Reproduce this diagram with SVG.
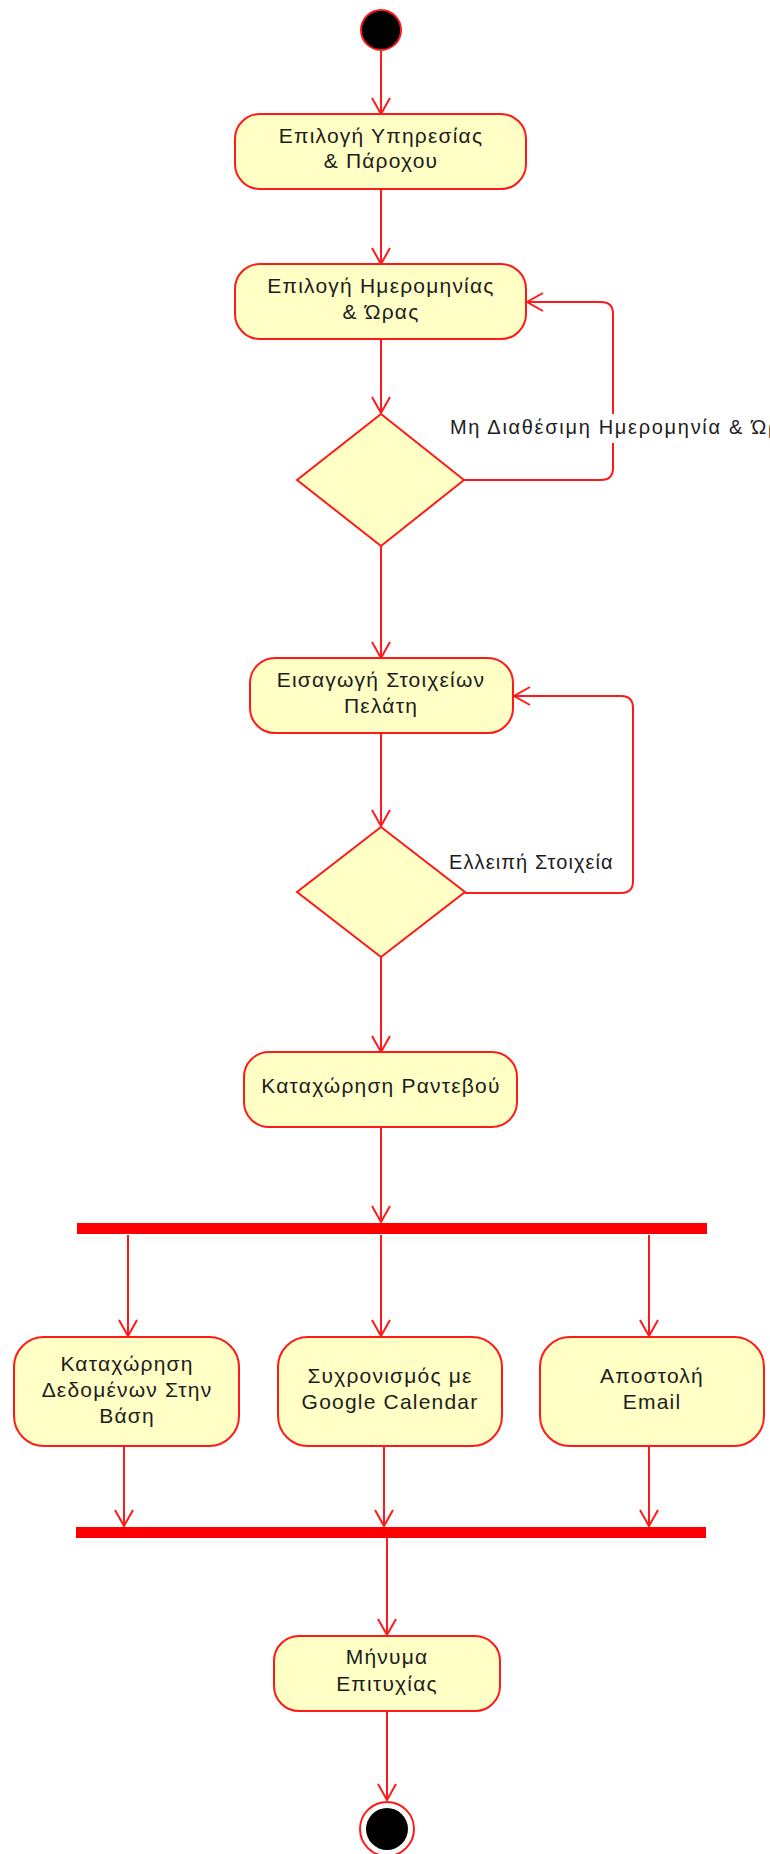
<svg xmlns="http://www.w3.org/2000/svg" width="770" height="1854" viewBox="0 0 770 1854">
<defs>
<style>
.node{fill:#ffffc6;stroke:#ff1a1a;stroke-width:2}
.txt{font-family:"Liberation Sans",Arial,sans-serif;font-size:21px;letter-spacing:1.2px;fill:#1c1c1c;text-anchor:middle}
.lbl{font-family:"Liberation Sans",Arial,sans-serif;font-size:20px;letter-spacing:1.1px;fill:#1c1c1c}
.edge{fill:none;stroke:#ff1a1a;stroke-width:2}
.bar{fill:#ff0000}
</style>
<marker id="arr" markerUnits="userSpaceOnUse" viewBox="-20 -12 24 24" refX="0" refY="0" markerWidth="24" markerHeight="24" orient="auto" overflow="visible">
<path d="M-16,-9 L0,0 L-16,9" fill="none" stroke="#ff1a1a" stroke-width="2"/>
</marker>
</defs>
<rect width="770" height="1854" fill="#ffffff"/>

<g id="connectors">
<path class="edge" d="M381,51 V114" marker-end="url(#arr)"/>
<path class="edge" d="M381,189 V264" marker-end="url(#arr)"/>
<path class="edge" d="M381,339 V413" marker-end="url(#arr)"/>
<path class="edge" d="M464,480 H601 Q613,480 613,468 V314 Q613,302 601,302 H527" marker-end="url(#arr)"/>
<path class="edge" d="M381,546 V658" marker-end="url(#arr)"/>
<path class="edge" d="M381,733 V826" marker-end="url(#arr)"/>
<path class="edge" d="M465,893 H621 Q633,893 633,881 V708 Q633,696 621,696 H514" marker-end="url(#arr)"/>
<path class="edge" d="M381,957 V1052" marker-end="url(#arr)"/>
<path class="edge" d="M381,1127 V1222" marker-end="url(#arr)"/>
<path class="edge" d="M128,1235 V1336" marker-end="url(#arr)"/>
<path class="edge" d="M381,1235 V1336" marker-end="url(#arr)"/>
<path class="edge" d="M649,1235 V1336" marker-end="url(#arr)"/>
<path class="edge" d="M124,1446 V1526" marker-end="url(#arr)"/>
<path class="edge" d="M384,1446 V1526" marker-end="url(#arr)"/>
<path class="edge" d="M649,1446 V1526" marker-end="url(#arr)"/>
<path class="edge" d="M387,1538 V1635" marker-end="url(#arr)"/>
<path class="edge" d="M387,1711 V1800" marker-end="url(#arr)"/>
<rect x="448" y="414" width="322" height="29" fill="#ffffff"/>
<text class="lbl" x="450" y="434" style="letter-spacing:1.7px">Μη Διαθέσιμη Ημερομηνία &amp; Ώρα</text>
<text class="lbl" x="449" y="869">Ελλειπή Στοιχεία</text>
</g>

<g id="start"><circle cx="381" cy="30" r="20" fill="#000000" stroke="#ff1a1a" stroke-width="2"/></g>

<g id="n1"><rect class="node" x="235" y="114" width="291" height="75" rx="25"/>
<text class="txt" x="381" y="143">Επιλογή Υπηρεσίας</text><text class="txt" x="381" y="168">&amp; Πάροχου</text></g>

<g id="n2"><rect class="node" x="235" y="264" width="291" height="75" rx="25"/>
<text class="txt" x="381" y="293">Επιλογή Ημερομηνίας</text><text class="txt" x="381" y="319">&amp; Ώρας</text></g>

<g id="d1"><polygon class="node" points="381,414 464,480 381,546 297,480"/></g>

<g id="n3"><rect class="node" x="250" y="658" width="263" height="75" rx="25"/>
<text class="txt" x="381" y="687">Εισαγωγή Στοιχείων</text><text class="txt" x="381" y="713">Πελάτη</text></g>

<g id="d2"><polygon class="node" points="381,827 465,892 381,957 297,892"/></g>

<g id="n4"><rect class="node" x="244" y="1052" width="273" height="75" rx="25"/>
<text class="txt" x="381" y="1093">Καταχώρηση Ραντεβού</text></g>

<g id="fork"><rect class="bar" x="77" y="1223" width="630" height="11"/></g>

<g id="nA"><rect class="node" x="14" y="1337" width="225" height="109" rx="30"/>
<text class="txt" x="127" y="1371">Καταχώρηση</text><text class="txt" x="127" y="1397">Δεδομένων Στην</text><text class="txt" x="127" y="1423">Βάση</text></g>

<g id="nB"><rect class="node" x="278" y="1337" width="224" height="109" rx="30"/>
<text class="txt" x="390" y="1383">Συχρονισμός με</text><text class="txt" x="390" y="1409">Google Calendar</text></g>

<g id="nC"><rect class="node" x="540" y="1337" width="224" height="109" rx="30"/>
<text class="txt" x="652" y="1383">Αποστολή</text><text class="txt" x="652" y="1409">Email</text></g>

<g id="join"><rect class="bar" x="76" y="1527" width="630" height="11"/></g>

<g id="n5"><rect class="node" x="274" y="1636" width="226" height="75" rx="25"/>
<text class="txt" x="387" y="1664">Μήνυμα</text><text class="txt" x="387" y="1691">Επιτυχίας</text></g>

<g id="end"><circle cx="387" cy="1829" r="27" fill="#ffffff" stroke="#ff1a1a" stroke-width="2"/><circle cx="387" cy="1829" r="21" fill="#000000"/></g>
</svg>
